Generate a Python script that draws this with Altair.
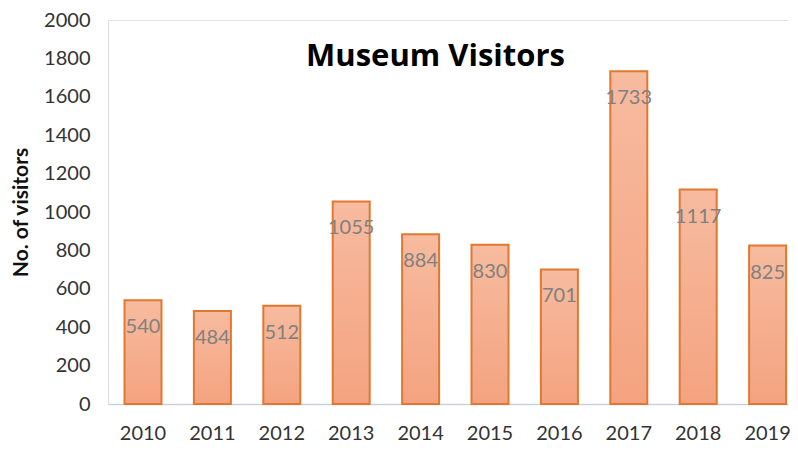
import altair as alt
import pandas as pd

years = ["2010", "2011", "2012", "2013", "2014", "2015", "2016", "2017", "2018", "2019"]
visitors = [540, 484, 512, 1055, 884, 830, 701, 1733, 1117, 825]
y_ticks = list(range(0, 2001, 200))
title_text = "Museum Visitors"

df = pd.DataFrame({"year": years, "visitors": visitors})

FONT = "Lato"

x_enc = alt.X(
    "year:N",
    sort=years,
    scale=alt.Scale(paddingInner=0.467, paddingOuter=0.1326, align=0.897),
    axis=alt.Axis(
        title=None, labelAngle=0, ticks=False, domainColor="#c9d2dc", domainWidth=1.5,
        labelFontSize=20, labelColor="#333333", labelFont=FONT, labelPadding=19, grid=False,
    ),
)
y_enc = alt.Y(
    "visitors:Q",
    scale=alt.Scale(domain=[0, 2000], nice=False),
    axis=alt.Axis(
        title="No. of visitors", titleFontSize=21, titleFont=FONT, titleFontWeight="bold",
        titleColor="#111111", titlePadding=12, values=y_ticks, format="d", ticks=False,
        grid=False, domainColor="#dddddd", labelFontSize=20, labelColor="#333333",
        labelFont=FONT, labelPadding=18,
    ),
)

bars = alt.Chart(df).mark_bar(
    color=alt.Gradient(
        gradient="linear",
        stops=[alt.GradientStop(color="#f7bb9f", offset=0), alt.GradientStop(color="#f4a380", offset=1)],
        x1=0, x2=0, y1=0, y2=1,
    ),
    stroke="#e2782f",
    strokeWidth=2,
).encode(x=x_enc, y=y_enc)

labels = alt.Chart(df).mark_text(
    baseline="top", dy=17, fontSize=20, color="#808080", font=FONT
).encode(
    x=alt.X("year:N", sort=years,
            axis=alt.Axis(orient="top", labels=False, ticks=False, title=title_text,
                          titleFontSize=31, titleFont="Open Sans", titleFontWeight="bold",
                          titleColor="#000000", titleX=327, titleY=45, titleAlign="center",
                          titleBaseline="alphabetic",
                          domainColor="#e3e3e3", grid=False)),
    y=y_enc,
    text="visitors:Q",
)

chart = alt.layer(bars, labels).resolve_axis(x="independent").properties(
    width=680,
    height=384,
    autosize=alt.AutoSizeParams(type="none"),
    padding={"left": 100, "top": 12, "right": 2, "bottom": 38},
).configure_view(stroke=None)

chart.save("out.html", embed_options={"renderer": "svg", "actions": False})
